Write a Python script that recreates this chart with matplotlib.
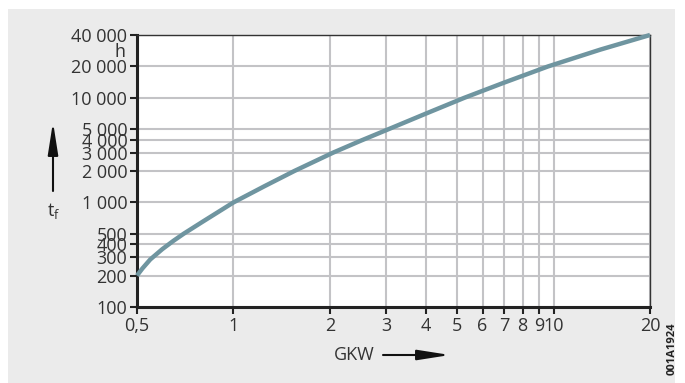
import matplotlib
matplotlib.use("Agg")
import matplotlib.pyplot as plt
from matplotlib.patches import Rectangle, FancyArrowPatch
from matplotlib.ticker import FixedLocator, FixedFormatter, NullLocator

# ---- data ----
gkw = [0.5, 0.52, 0.55, 0.6, 0.65, 0.7, 0.8, 0.9, 1.0, 1.25, 1.55, 2.05, 2.5, 3.04, 4.0, 5.25, 7.0, 9.6, 14.0, 20.0]
t_f = [200, 234, 285, 358, 430, 503, 652, 817, 1000, 1430, 2000, 3000, 3900, 5000, 7100, 10000, 14000, 20000, 29000, 40000]

x_ticks = [0.5, 1, 2, 3, 4, 5, 6, 7, 8, 9, 10, 20]
x_labels = ["0,5", "1", "2", "3", "4", "5", "6", "7", "8", "9", "10", "20"]
y_ticks = [100, 200, 300, 400, 500, 1000, 2000, 3000, 4000, 5000, 10000, 20000, 40000]
y_labels = ["100", "200", "300", "400", "500", "1 000", "2 000", "3 000", "4 000",
            "5 000", "10 000", "20 000", "40 000"]

W, H = 685, 383
plt.rcParams["font.family"] = ["Open Sans", "DejaVu Sans"]
txt = "#333333"
fs = 13
fig = plt.figure(figsize=(W / 100, H / 100), dpi=100, facecolor="white")
fig.patches.append(Rectangle((8 / W, 0), (675 - 8) / W, 1 - 9 / H,
                             transform=fig.transFigure, facecolor="#ebebeb",
                             edgecolor="none", zorder=-5))

ax = fig.add_axes([137 / W, (H - 307) / H, (650 - 137) / W, (307 - 35) / H])
ax.set_zorder(2)
ax.set_facecolor("white")
ax.set_xscale("log")
ax.set_yscale("log")
ax.set_xlim(0.5, 20)
ax.set_ylim(100, 40000)

ax.xaxis.set_major_locator(FixedLocator(x_ticks))
ax.xaxis.set_major_formatter(FixedFormatter(x_labels))
ax.xaxis.set_minor_locator(NullLocator())
ax.yaxis.set_major_locator(FixedLocator(y_ticks))
ax.yaxis.set_major_formatter(FixedFormatter(y_labels))
ax.yaxis.set_minor_locator(NullLocator())

ax.grid(True, which="major", color="#c3c3c6", lw=1.5, zorder=1)
ax.tick_params(axis="both", direction="out", length=5, width=1.5, color="#222222",
               labelsize=fs, labelcolor=txt, pad=2)
ax.tick_params(axis="x", pad=2)

for s in ["left", "bottom"]:
    ax.spines[s].set_linewidth(2.2)
    ax.spines[s].set_color("#222222")
for s in ["top", "right"]:
    ax.spines[s].set_linewidth(1.0)
    ax.spines[s].set_color("#333333")

ax.plot(gkw, t_f, color="#6f95a0", lw=3.2, solid_capstyle="butt",
        solid_joinstyle="round", zorder=3, clip_on=False)

# unit and axis titles
fig.text(126 / W, 1 - 52 / H, "h", ha="right", va="center", fontsize=fs, color=txt)
fig.text(54 / W, 1 - 211 / H, "t$_\\mathregular{f}$", ha="center", va="center", fontsize=fs, color=txt)
fig.text(354 / W, 1 - 355 / H, "GKW", ha="center", va="center", fontsize=fs, color=txt)

fig.add_artist(FancyArrowPatch(
    (53 / W, 1 - 191 / H), (53 / W, 1 - 122 / H), transform=fig.transFigure,
    arrowstyle="-|>,head_length=1.4,head_width=0.22", mutation_scale=14,
    color="#111111", lw=1.5, shrinkA=0, shrinkB=0))
fig.add_artist(FancyArrowPatch(
    (383 / W, 1 - 355 / H), (450 / W, 1 - 355 / H), transform=fig.transFigure,
    arrowstyle="-|>,head_length=1.4,head_width=0.22", mutation_scale=14,
    color="#111111", lw=1.5, shrinkA=0, shrinkB=0))

fig.text(672 / W, 1 - 349 / H, "001A1924", rotation=90, ha="center", va="center",
         fontsize=8, fontweight="bold", color="#222222")

fig.savefig("out.png", dpi=100, facecolor=fig.get_facecolor())
